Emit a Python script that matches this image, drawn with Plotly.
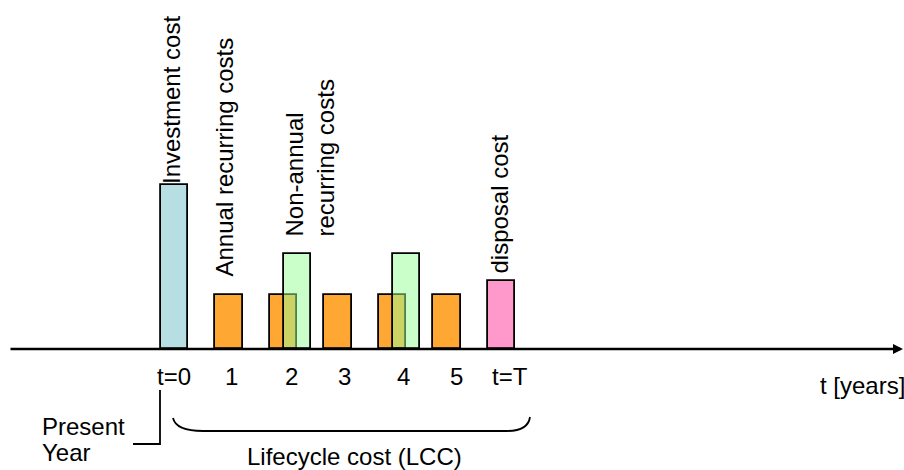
import plotly.graph_objects as go

# ---------------- data ----------------
invest_x = [0]
invest_val = [3.04]
annual_x = [1, 2, 3, 4, 5]
annual_val = [1.0, 1.0, 1.0, 1.0, 1.0]
nonannual_x = [2, 4]
nonannual_val = [1.76, 1.76]
disposal_x = [6]
disposal_val = [1.26]
tick_labels = ["t=0", "1", "2", "3", "4", "5", "t=T"]

# ---------------- geometry helpers (pixel -> data) ----------------
W, H = 904, 470
X0PX, XUNIT = 174.5, 54.5   # pixel of x=0, pixels per year
Y0PX, YUNIT = 349.0, 54.0   # pixel of y=0, pixels per unit


def px(p):
    return (p - X0PX) / XUNIT


def py(p):
    return (Y0PX - p) / YUNIT


FONT = dict(family="Liberation Sans, Arial, sans-serif", size=24, color="black")
BAR_W = 0.5
LINE = dict(color="black", width=1.8)

fig = go.Figure()
fig.add_trace(go.Bar(x=invest_x, y=invest_val, width=BAR_W,
                     marker=dict(color="#B7DFE3", line=LINE)))
fig.add_trace(go.Bar(x=annual_x, y=annual_val, width=BAR_W,
                     marker=dict(color="#FFA733", line=LINE)))
fig.add_trace(go.Bar(x=nonannual_x, y=nonannual_val, width=BAR_W, offset=0.0,
                     marker=dict(color="rgba(150,255,150,0.5)", line=LINE)))
fig.add_trace(go.Bar(x=disposal_x, y=disposal_val, width=BAR_W,
                     marker=dict(color="#FF99CC", line=LINE)))

ann = []
# time axis arrow
ann.append(dict(x=px(903), y=0, ax=px(9), ay=0, xref="x", yref="y", axref="x", ayref="y",
                showarrow=True, arrowhead=2, arrowsize=0.8, arrowwidth=2.5,
                arrowcolor="black", text=""))

# rotated category labels
rot = [
    ("Investment cost", 171.0, 186),
    ("Annual recurring costs", 224.0, 279),
    ("Non-annual<br>recurring costs", 309.0, 239),
    ("disposal cost", 499.0, 276),
]
for txt, xp, yp in rot:
    ann.append(dict(x=px(xp), y=py(yp), xref="x", yref="y", text=txt, textangle=-90,
                    showarrow=False, xanchor="center", yanchor="bottom", align="left",
                    font=FONT))

# tick labels
tick_px = [174, 231, 291, 344, 403, 456, 510]
for lab, xp in zip(tick_labels, tick_px):
    ann.append(dict(x=px(xp), y=py(376), xref="x", yref="y", text=lab, showarrow=False,
                    xanchor="center", yanchor="middle", font=FONT))

ann.append(dict(x=px(818), y=py(385), xref="x", yref="y", text="t [years]", showarrow=False,
                xanchor="left", yanchor="middle", font=FONT))
ann.append(dict(x=px(40), y=py(426), xref="x", yref="y", text="Present", showarrow=False,
                xanchor="left", yanchor="middle", font=FONT))
ann.append(dict(x=px(40), y=py(452), xref="x", yref="y", text="Year", showarrow=False,
                xanchor="left", yanchor="middle", font=FONT))
ann.append(dict(x=px(354), y=py(456), xref="x", yref="y", text="Lifecycle cost (LCC)",
                showarrow=False, xanchor="center", yanchor="middle", font=FONT))


def path(points_cmds):
    out = []
    for cmd, pts in points_cmds:
        coords = " ".join(f"{px(a):.4f},{py(b):.4f}" for a, b in pts)
        out.append(f"{cmd} {coords}")
    return " ".join(out)


shapes = [
    dict(type="path", xref="x", yref="y",
         path=path([("M", [(160, 390)]), ("L", [(160, 444)]), ("L", [(133, 444)])]),
         line=dict(color="black", width=1.8)),
    dict(type="path", xref="x", yref="y",
         path=path([("M", [(173, 418)]), ("Q", [(176, 431), (203, 431)]),
                    ("L", [(507, 431)]), ("Q", [(528, 431), (530, 417)])]),
         line=dict(color="black", width=1.8)),
]

fig.update_layout(
    width=W, height=H, margin=dict(l=0, r=0, t=0, b=0),
    paper_bgcolor="white", plot_bgcolor="white",
    barmode="overlay", showlegend=False, bargap=0,
    xaxis=dict(range=[px(0), px(W)], visible=False, fixedrange=True),
    yaxis=dict(range=[py(H), py(0)], visible=False, fixedrange=True),
    annotations=ann, shapes=shapes,
)

fig.write_html(
    "out.html",
    config={"displayModeBar": False},
    post_script="document.body.style.margin='0';document.body.style.overflow='hidden';",
)
